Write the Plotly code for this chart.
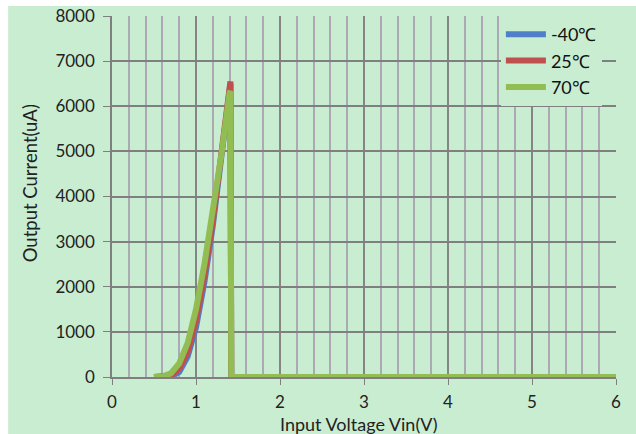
import plotly.graph_objects as go

# Data
vin = [0.5, 0.6, 0.7, 0.8, 0.9, 1.0, 1.1, 1.2, 1.3, 1.4, 1.41, 1.42, 6.0]
i_m40 = [0, 0, 10, 110, 450, 1100, 2100, 3350, 4800, 6400, 6500, 0, 0]
i_25 = [0, 0, 30, 180, 550, 1250, 2250, 3450, 4850, 6450, 6550, 0, 0]
i_70 = [0, 10, 80, 300, 750, 1500, 2500, 3650, 4900, 6300, 6330, 0, 0]

series = [
    ("-40℃", i_m40, "#4F7FC6"),
    ("25℃", i_25, "#C0504D"),
    ("70℃", i_70, "#92BD52"),
]

x_ticks = [0, 1, 2, 3, 4, 5, 6]
y_ticks = [0, 1000, 2000, 3000, 4000, 5000, 6000, 7000, 8000]
x_title = "Input Voltage Vin(V)"
y_title = "Output Current(uA)"

BG = "#C9EDD1"
FONT = "Lato, 'Open Sans', sans-serif"

fig = go.Figure()
for name, ys, col in series:
    fig.add_trace(go.Scatter(
        x=vin, y=ys, name=name, mode="lines",
        line=dict(color=col, width=6),
    ))

fig.add_shape(type="rect", xref="paper", yref="paper",
              x0=-0.206, x1=1.05, y0=-0.16, y1=1.028,
              fillcolor=BG, line=dict(width=0), layer="below")

fig.add_annotation(text=x_title, xref="paper", yref="paper",
                   x=0.489, y=-0.131, xanchor="center", yanchor="middle",
                   showarrow=False, font=dict(family=FONT, size=18, color="#222"))
fig.add_annotation(text=y_title, xref="paper", yref="paper",
                   x=-0.163, y=0.536, xanchor="center", yanchor="middle",
                   textangle=-90, showarrow=False,
                   font=dict(family=FONT, size=18.5, color="#222"))

fig.update_layout(
    width=636, height=434,
    margin=dict(l=112, r=20, t=16, b=57, autoexpand=False),
    paper_bgcolor="white",
    plot_bgcolor=BG,
    font=dict(family=FONT, size=17, color="#222"),
    showlegend=True,
    legend=dict(
        x=0.972, y=1.0, xanchor="right", yanchor="top",
        bgcolor=BG, borderwidth=0,
        font=dict(family=FONT, size=18, color="#111"),
        tracegroupgap=0, itemwidth=40,
    ),
    xaxis=dict(
        range=[0, 6], tickvals=x_ticks, ticktext=[str(v) for v in x_ticks],
        showgrid=True, gridcolor="#858585", gridwidth=1.5,
        minor=dict(dtick=0.2, showgrid=True, gridcolor="#ABA9B3", gridwidth=1.5),
        showline=True, linecolor="#7F7F7F", linewidth=1.5,
        ticks="outside", ticklen=6, tickcolor="#7F7F7F",
        ticklabelstandoff=3, automargin=False,
        zeroline=False,
    ),
    yaxis=dict(
        range=[0, 8000], tickvals=y_ticks, ticktext=[str(v) for v in y_ticks],
        showgrid=True, gridcolor="#7F7F7F", gridwidth=2,
        showline=True, linecolor="#7F7F7F", linewidth=1.5,
        ticks="outside", ticklen=7, tickcolor="#7F7F7F",
        ticklabelstandoff=5, automargin=False,
        zeroline=False,
    ),
)

fig.write_html("out.html", config={"displayModeBar": False},
               post_script="document.body.style.margin='0';document.body.style.padding='0';")
